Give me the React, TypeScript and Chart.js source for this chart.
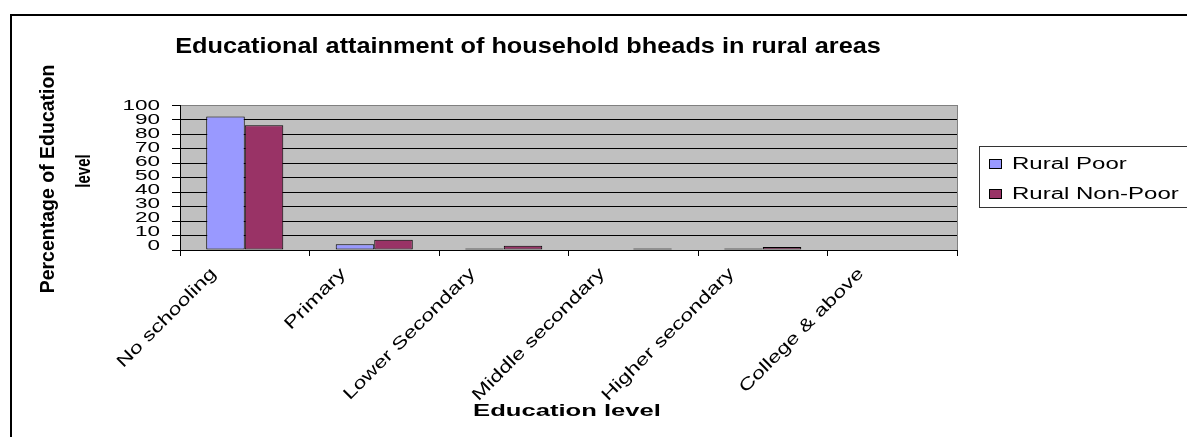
import React, { useEffect, useRef } from 'react';
import { Chart, registerables } from 'chart.js';

Chart.register(...registerables);

// ---- data ----
const categories = [
  'No schooling',
  'Primary',
  'Lower Secondary',
  'Middle secondary',
  'Higher secondary',
  'College & above',
];
const ruralPoor = [92, 4, 1, 0, 1, 0];
const ruralNonPoor = [86, 7, 3, 1, 2, 0];
const seriesNames = ['Rural Poor', 'Rural Non-Poor'];
const seriesColors = ['#9999FF', '#993366'];
const yTickValues = [0, 10, 20, 30, 40, 50, 60, 70, 80, 90, 100];

const titleText = 'Educational attainment of household bheads in rural areas';
const yTitleLines = ['Percentage of Education', 'level'];
const xTitleText = 'Education level';

const FONT = '"Liberation Sans", Arial, sans-serif';

// Text drawn with a horizontal glyph stretch along its own baseline
function drawText(
  ctx: CanvasRenderingContext2D,
  text: string,
  x: number,
  y: number,
  size: number,
  bold: boolean,
  sx: number,
  align: CanvasTextAlign,
  rotation = 0,
  baseline: CanvasTextBaseline = 'alphabetic'
) {
  ctx.save();
  ctx.translate(x, y);
  if (rotation) ctx.rotate(rotation);
  ctx.scale(sx, 1);
  ctx.font = `${bold ? 'bold ' : ''}${size}px ${FONT}`;
  ctx.textAlign = align;
  ctx.textBaseline = baseline;
  ctx.fillStyle = '#000';
  ctx.fillText(text, 0, 0);
  ctx.restore();
}

const decorPlugin = {
  id: 'sheetDecor',
  beforeDraw(chart: any) {
    const { ctx, chartArea: a, width, height } = chart;
    ctx.save();
    ctx.fillStyle = '#ffffff';
    ctx.fillRect(0, 0, width, height);
    ctx.fillStyle = '#C0C0C0';
    ctx.fillRect(a.left, a.top, a.right - a.left, a.bottom - a.top);
    ctx.restore();
  },
  afterDraw(chart: any) {
    const { ctx, chartArea: a } = chart;
    const xs = chart.scales.x;
    const ys = chart.scales.y;

    // plot area right edge
    ctx.save();
    ctx.strokeStyle = '#808080';
    ctx.lineWidth = 1;
    ctx.beginPath();
    ctx.moveTo(Math.round(a.right) + 0.5, a.top);
    ctx.lineTo(Math.round(a.right) + 0.5, a.bottom);
    ctx.stroke();

    // outer chart frame
    ctx.strokeStyle = '#000';
    ctx.lineWidth = 2;
    ctx.strokeRect(11, 15, 1400, 600);
    ctx.restore();

    // title
    drawText(ctx, titleText, 528, 53, 22, true, 1.15, 'center');

    // axis titles
    drawText(ctx, yTitleLines[0], 54, 179, 19.5, true, 1.0, 'center', -Math.PI / 2);
    drawText(ctx, yTitleLines[1], 90, 171, 20, true, 0.75, 'center', -Math.PI / 2);
    drawText(ctx, xTitleText, 567, 416, 16, true, 1.6, 'center');

    // y tick labels
    yTickValues.forEach((v) => {
      const py = ys.getPixelForValue(v);
      const ly = a.top + (py - a.top) * 0.96;
      drawText(ctx, String(v), 160, ly + 5.4, 15, false, 1.5, 'right');
    });

    // category labels, rotated 45 degrees
    categories.forEach((c, i) => {
      const cx = xs.getPixelForTick(i);
      drawText(ctx, c, cx - 31, a.bottom + 21, 17, false, 1.35, 'right', -Math.PI / 4, 'middle');
    });

    // legend
    ctx.save();
    ctx.strokeStyle = '#333';
    ctx.lineWidth = 1;
    ctx.strokeRect(979.5, 146.5, 400, 61);
    chart.data.datasets.forEach((ds: any, i: number) => {
      const top = 159 + i * 30;
      ctx.fillStyle = ds.backgroundColor;
      ctx.fillRect(989, top, 12, 9);
      ctx.strokeStyle = '#000';
      ctx.strokeRect(989.5, top + 0.5, 12, 9);
      drawText(ctx, ds.label, 1012, top + 10, 16, false, 1.5, 'left');
    });
    ctx.restore();
  },
};

export default function App() {
  const canvasRef = useRef<HTMLCanvasElement | null>(null);

  useEffect(() => {
    if (!canvasRef.current) return;
    const chart = new Chart(canvasRef.current, {
      type: 'bar',
      data: {
        labels: categories,
        datasets: [
          {
            label: seriesNames[0],
            data: ruralPoor,
            backgroundColor: seriesColors[0],
            borderColor: '#000',
            borderWidth: 1,
            borderSkipped: false,
            categoryPercentage: 0.595,
            barPercentage: 1,
          },
          {
            label: seriesNames[1],
            data: ruralNonPoor,
            backgroundColor: seriesColors[1],
            borderColor: '#000',
            borderWidth: 1,
            borderSkipped: false,
            categoryPercentage: 0.595,
            barPercentage: 1,
          },
        ],
      },
      options: {
        responsive: false,
        animation: false,
        devicePixelRatio: 1,
        layout: { padding: { left: 0, top: 105, right: 230, bottom: 0 } },
        plugins: {
          legend: { display: false },
          title: { display: false },
          tooltip: { enabled: false },
        },
        scales: {
          x: {
            offset: true,
            grid: {
              display: true,
              offset: true,
              drawOnChartArea: false,
              drawTicks: true,
              tickLength: 6,
              color: '#000',
            },
            border: { display: true, color: '#000', width: 1 },
            ticks: { display: false },
            afterFit: (scale: any) => {
              scale.height = 187;
            },
          },
          y: {
            min: 0,
            max: 100,
            grid: {
              color: (c: any) => (c.tick && c.tick.value === 100 ? '#808080' : '#000'),
              tickColor: '#000',
              drawTicks: true,
              tickLength: 8,
              lineWidth: 1,
            },
            border: { display: true, color: '#000', width: 1 },
            ticks: { display: false, stepSize: 10 },
            afterFit: (scale: any) => {
              scale.width = 180;
            },
          },
        },
      },
      plugins: [decorPlugin],
    });
    return () => chart.destroy();
  }, []);

  return (
    <div style={{ position: 'fixed', left: 0, top: 0, width: 1187, height: 437, background: '#fff' }}>
      <canvas ref={canvasRef} width={1187} height={437} style={{ display: 'block' }} />
    </div>
  );
}
